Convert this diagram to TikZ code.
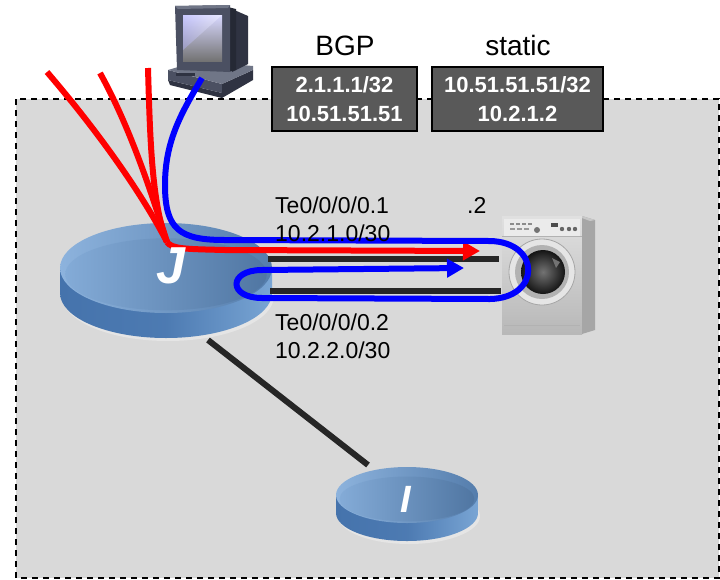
\documentclass[tikz,border=0pt]{standalone}
\usepackage{fontspec}
\setmainfont{Liberation Sans}
\usetikzlibrary{arrows.meta,calc}

\definecolor{bggray}{HTML}{D9D9D9}
\definecolor{boxgray}{HTML}{595959}
\definecolor{linkgray}{HTML}{262626}
\definecolor{flowred}{HTML}{FF0000}
\definecolor{flowblue}{HTML}{0000FF}
\definecolor{diskdark}{HTML}{4573AC}
\definecolor{disklight}{HTML}{79A5D4}
\definecolor{topdark}{HTML}{5E8BBF}
\definecolor{toplight}{HTML}{8DB3DD}
\definecolor{pcdark}{HTML}{2F3342}
\definecolor{pcmid}{HTML}{4B5062}
\definecolor{pclight}{HTML}{707687}

% router drawn as a flat cylinder: centre x, centre y, x radius, y radius, height
\newcommand\routerdisk[5]{%
  \fill[black!10] ({#1+2},{#2+#5+3}) ellipse [x radius={#3}, y radius={#4}];
  \shade[left color=diskdark, right color=disklight, middle color=diskdark!85!disklight]
    ({#1-#3},{#2}) -- ({#1-#3},{#2+#5})
    arc [start angle=180, end angle=0, x radius={#3}, y radius={#4}]
    -- ({#1+#3},{#2}) -- cycle;
  \shade[left color=toplight, right color=topdark!90!black]
    ({#1},{#2}) ellipse [x radius={#3}, y radius={#4}];
  \shade[left color=toplight!80!topdark, right color=topdark!85!black]
    ({#1},{#2+0.14*#4}) ellipse [x radius={0.95*#3}, y radius={0.8*#4}];
}

\tikzset{
  link/.style={draw=linkgray, line width=6pt},
  redflow/.style={draw=flowred, line width=6pt},
  blueflow/.style={draw=flowblue, line width=6pt},
  flowtip/.style={-{Triangle[length=17pt,width=18pt]}},
  lbl/.style={inner sep=0pt, font=\fontsize{23}{28}\selectfont},
  head/.style={inner sep=0pt, font=\fontsize{28}{32}\selectfont},
  routebox/.style={draw=black, line width=2pt, fill=boxgray, text=white,
    minimum width=145pt, minimum height=64pt, inner sep=0pt, align=center,
    font=\fontsize{22}{29}\selectfont\bfseries},
  rname/.style={text=white, inner sep=0pt, font=\bfseries\itshape},
}

\begin{document}
\begin{tikzpicture}[x=1pt,y=-1pt]
\useasboundingbox (0,0) rectangle (720,579);

% domain area
\fill[bggray] (16,99) rectangle (719,578);
\draw[line width=2pt, dash pattern=on 6pt off 5pt] (16,99) rectangle (719,578);

% anchor points
\coordinate (J) at (166,268);
\coordinate (I) at (407,495);
\coordinate (J-te1) at (268,259);
\coordinate (J-te2) at (270,291);
\coordinate (wm-te1) at (499,259);
\coordinate (wm-te2) at (501,291);
\coordinate (J-down) at (208,340);
\coordinate (I-up) at (368,465);

% router J
\routerdisk{166}{268}{106}{45}{25}
% router I
\routerdisk{407}{495}{71}{28}{18}

% links
\draw[link] (J-down) -- (I-up);

% washing machine
\fill[black!15] (586,226) -- (600,228) -- (600,336) -- (586,338) -- cycle;
\shade[top color=black!12, bottom color=black!28] (502,216) rectangle (582,334);
\fill[black!35] (582,216) -- (595,220) -- (595,330) -- (582,334) -- cycle;
\fill[black!22] (582,216) -- (595,220) -- (590,221) -- (582,218) -- cycle;
\fill[black!8] (504,219) rectangle (580,236);
\foreach \mx in {510,516,522,528} \fill[black!45] (\mx,223) rectangle ++(4,1.5);
\foreach \mx in {510,517,524} \fill[black!40] (\mx,228) rectangle ++(5,1.5);
\fill[black!70] (551,223) rectangle ++(7,4);
\foreach \mx in {562,569,575} \fill[black!60] (\mx,229) circle (2.2);
\fill[black!55] (537,230) circle (3);
\draw[black!30, line width=0.6pt] (502,236.5) -- (582,236.5);
\draw[black!30, line width=0.6pt] (504,325) -- (580,325);
\fill[black!10] (542,272) circle (33);
\draw[black!35, line width=0.8pt] (542,272) circle (33);
\fill[black!30] (542,272) circle (27);
\shade[inner color=black!55, outer color=black!92] (543,272) circle (22);
\fill[black!55] (552,258) -- (560,262) -- (556,268) -- cycle;

% link pair towards the washing machine
\draw[link] (J-te1) -- (wm-te1);
\draw[link] (J-te2) -- (wm-te2);

% PC: base unit
\fill[pcdark] (168,80) -- (222,93) -- (222,98) -- (170,85) -- cycle;
\fill[pcmid] (168,70) -- (222,84) -- (222,93) -- (168,80) -- cycle;
\fill[pcdark] (222,84) -- (253,70) -- (253,80) -- (222,98) -- cycle;
\fill[pclight] (168,70) -- (198,61) -- (253,66) -- (253,70) -- (222,84) -- cycle;
\fill[pcdark] (176,73) rectangle (195,76);
% PC: monitor
\fill[pcdark] (232,9) -- (248,16) -- (248,64) -- (232,72) -- cycle;
\fill[pcdark!80!black] (228,7) -- (236,9) -- (236,70) -- (228,72) -- cycle;
\fill[pcmid] (175,6) -- (230,5) -- (230,72) -- (177,70) -- cycle;
\fill[pclight] (175,6) -- (230,5) -- (228,8) -- (178,9) -- cycle;
\shade[top color=white!85!blue, bottom color=black!55] (183,15) rectangle (222,61);
\shade[left color=white!70!blue, right color=white, opacity=0.4] (183,15) -- (222,15) -- (183,50) -- cycle;

% traffic from the upstream peers
\coordinate (r1) at (47,72);
\coordinate (r2) at (100,73);
\coordinate (r3) at (148,68);
\coordinate (rj) at (167,242);
\coordinate (rtip) at (480,251);
\draw[redflow] (r1) .. controls (95,128) and (140,190) .. (rj);
\draw[redflow] (r2) .. controls (126,120) and (146,175) .. (rj);
\draw[redflow] (r3) .. controls (150,140) and (152,205) .. (rj);
\draw[redflow, flowtip] (rj) .. controls (172,249) and (185,249) .. (225,250) -- (rtip);

% traffic from the PC, looping back through J
\coordinate (pc) at (202,78);
\coordinate (btip) at (464,268);
\draw[blueflow, flowtip] (pc) .. controls (182,112) and (165,140) .. (165,185)
  .. controls (165,230) and (180,240) .. (225,240) -- (490,241)
  .. controls (541,242) and (541,298) .. (490,299) -- (262,298)
  .. controls (228,298) and (228,270) .. (262,270) -- (btip);

% router names
\node[rname, font=\fontsize{52}{52}\selectfont\bfseries\itshape] (Jname) at (171,266) {J};
\node[rname, font=\fontsize{38}{38}\selectfont\bfseries\itshape] (Iname) at (406,499) {I};

% interface labels
\node[lbl, anchor=base west] (te1) at (275,213) {Te0/0/0/0.1};
\node[lbl, anchor=base west] (net1) at (275,241) {10.2.1.0/30};
\node[lbl, anchor=base west] (wmaddr) at (467,213) {.2};
\node[lbl, anchor=base west] (te2) at (275,330) {Te0/0/0/0.2};
\node[lbl, anchor=base west] (net2) at (275,358) {10.2.2.0/30};

% route boxes
\node[head, anchor=base] (bgp) at (345,55) {BGP};
\node[head, anchor=base] (static) at (518,55) {static};
\node[routebox] (bgpbox) at (344.5,99) {2.1.1.1/32\\10.51.51.51};
\node[routebox, minimum width=171pt] (staticbox) at (517.5,99) {10.51.51.51/32\\10.2.1.2};
\end{tikzpicture}
\end{document}
